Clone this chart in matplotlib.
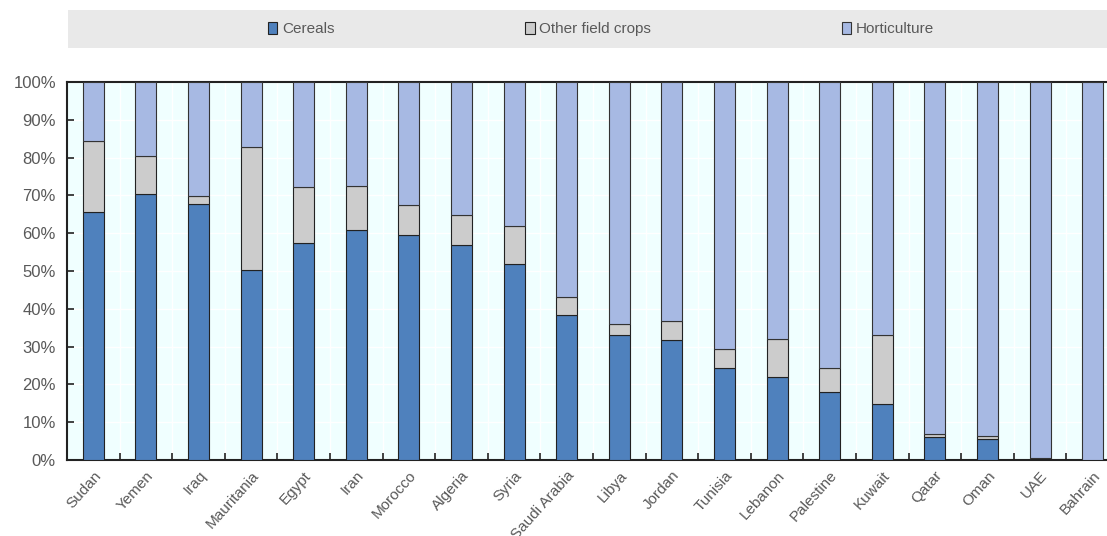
import numpy as np
import matplotlib.pyplot as plt
from matplotlib.patches import Rectangle

countries = ['Sudan', 'Yemen', 'Iraq', 'Mauritania', 'Egypt', 'Iran', 'Morocco', 'Algeria', 'Syria',
             'Saudi Arabia', 'Libya', 'Jordan', 'Tunisia', 'Lebanon', 'Palestine', 'Kuwait', 'Qatar',
             'Oman', 'UAE', 'Bahrain']
cereals = [65.5, 70.5, 67.8, 50.2, 57.5, 60.9, 59.4, 56.9, 51.8, 38.4, 33.0, 31.7, 24.3, 22.0, 17.9,
           14.8, 6.2, 5.6, 0.3, 0.0]
other_crops = [19.0, 10.0, 2.0, 32.5, 14.7, 11.6, 8.1, 7.8, 10.2, 4.8, 2.9, 5.1, 5.0, 10.0, 6.5,
               18.3, 0.7, 0.8, 0.1, 0.0]
horticulture = [100 - c - o for c, o in zip(cereals, other_crops)]

c_cer = '#4F81BD'
c_oth = '#CCCCCC'
c_hor = '#A7B9E3'
txt = '#595959'

plt.rcParams['font.family'] = ['Liberation Sans Narrow', 'Liberation Sans', 'DejaVu Sans']

fig = plt.figure(figsize=(11.07, 5.36), dpi=100)
ax = fig.add_axes([67 / 1107, 76 / 536, 1052 / 1107, 378 / 536])
ax.set_facecolor('#F0FFFF')

x = np.arange(len(countries))
w = 0.4
ax.bar(x, cereals, w, color=c_cer, edgecolor='#222222', linewidth=0.8, zorder=3, label='Cereals')
ax.bar(x, other_crops, w, bottom=cereals, color=c_oth, edgecolor='#222222', linewidth=0.8, zorder=3,
       label='Other field crops')
bottoms = [c + o for c, o in zip(cereals, other_crops)]
ax.bar(x, horticulture, w, bottom=bottoms, color=c_hor, edgecolor='#333333', linewidth=0.8, zorder=3,
       label='Horticulture')

ax.set_xlim(-0.5, len(countries) - 0.5)
ax.set_ylim(0, 100)
ax.set_yticks(np.arange(0, 101, 10))
ax.set_yticklabels([f'{v}%' for v in range(0, 101, 10)], color=txt, fontsize=12)
ax.set_xticks(x)
ax.set_xticklabels(countries, rotation=48, ha='right', rotation_mode='anchor', color=txt, fontsize=11)
ax.tick_params(axis='x', length=0, pad=6)
ax.set_xticks(x[:-1] + 0.5, minor=True)
ax.tick_params(axis='x', which='minor', direction='in', length=5, width=1.2, color='#222222')
ax.tick_params(axis='y', direction='in', length=5, width=1.2, color='#222222', pad=8)
ax.grid(axis='y', color='white', linewidth=1, zorder=1)
ax.grid(axis='x', which='minor', color='white', linewidth=1, zorder=1)
for s in ax.spines.values():
    s.set_color('#222222')
    s.set_linewidth(1.5)

# legend strip
fig.patches.append(Rectangle((68 / 1107, 1 - 48 / 536), 1 - 68 / 1107, 38 / 536, transform=fig.transFigure,
                             facecolor='#E9E9E9', edgecolor='none', zorder=0))
leg = fig.legend(handles=ax.containers, labels=['Cereals', 'Other field crops', 'Horticulture'],
                 loc='center', bbox_to_anchor=(0.543, 1 - 29 / 536), ncol=3, frameon=False,
                 fontsize=11, handlelength=0.6, handleheight=0.9, handletextpad=0.3, columnspacing=12.5)
for t in leg.get_texts():
    t.set_color(txt)

plt.savefig('out.png', dpi=100)
